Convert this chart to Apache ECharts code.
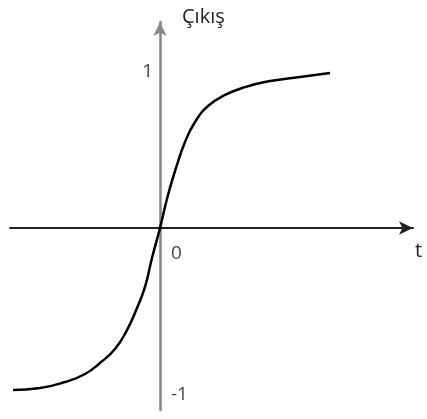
<!DOCTYPE html>
<html>
<head>
<meta charset="utf-8">
<script src="https://cdn.jsdelivr.net/npm/echarts@6/dist/echarts.min.js"></script>
<style>
  html, body { margin: 0; padding: 0; background: #fff; }
  #chart { width: 427px; height: 419px; }
</style>
</head>
<body>
<div id="chart"></div>
<script>
// curve points (x in arbitrary time units, y output)
const curveX = [-2.94, -2.4, -1.9, -1.5, -1.2, -0.9, -0.66, -0.46, -0.3, -0.16, 0,
  0.16, 0.32, 0.5, 0.7, 0.96, 1.3, 1.7, 2.2, 2.8, 3.4];
const curveY = [-1.025, -1.013, -0.975, -0.924, -0.854, -0.766, -0.646, -0.506, -0.373, -0.19, 0,
  0.209, 0.38, 0.544, 0.671, 0.772, 0.842, 0.892, 0.93, 0.956, 0.981];

const tickValues = [0.987, 0, -1.04];
const tickLabels = ['1', '0', '-1'];
const yName = 'Çıkış';
const xName = 't';

const font = '"Open Sans", sans-serif';

const tickPos = [
  { position: 'left', offset: [-2, 0] },
  { position: 'right', offset: [6, 26] },
  { position: 'right', offset: [6, 2] }
];

const chart = echarts.init(document.getElementById('chart'));

const option = {
  animation: false,
  grid: { left: 10, right: 14, top: 22, bottom: 9 },
  xAxis: {
    type: 'value',
    min: -3,
    max: 5.06,
    name: xName,
    nameLocation: 'end',
    nameGap: 2,
    nameTextStyle: { fontFamily: font, fontSize: 20, color: '#222', verticalAlign: 'top', padding: [13, 0, 0, 0] },
    axisLine: {
      onZero: true,
      symbol: ['none', 'arrow'],
      symbolSize: [10, 14],
      lineStyle: { color: '#222', width: 2 }
    },
    axisTick: { show: false },
    axisLabel: { show: false },
    splitLine: { show: false }
  },
  yAxis: {
    type: 'value',
    min: -1.152,
    max: 1.304,
    name: yName,
    nameLocation: 'end',
    nameGap: 5,
    nameTextStyle: { fontFamily: font, fontSize: 20, color: '#222', align: 'left', verticalAlign: 'middle', padding: [0, 0, 0, 22] },
    axisLine: {
      onZero: true,
      symbol: ['none', 'arrow'],
      symbolSize: [10, 14],
      lineStyle: { color: '#888', width: 2.5 }
    },
    axisTick: { show: false },
    axisLabel: { show: false },
    splitLine: { show: false }
  },
  series: [
    {
      type: 'line',
      smooth: true,
      showSymbol: false,
      data: curveX.map((x, i) => [x, curveY[i]]),
      lineStyle: { color: '#000', width: 2.5 }
    },
    {
      type: 'scatter',
      symbolSize: 0,
      silent: true,
      data: tickValues.map((v, i) => ({
        value: [0, v],
        label: {
          show: true,
          formatter: tickLabels[i],
          position: tickPos[i].position,
          offset: tickPos[i].offset,
          fontFamily: font,
          fontSize: 19,
          color: '#111'
        }
      }))
    }
  ]
};

chart.setOption(option);
</script>
</body>
</html>
